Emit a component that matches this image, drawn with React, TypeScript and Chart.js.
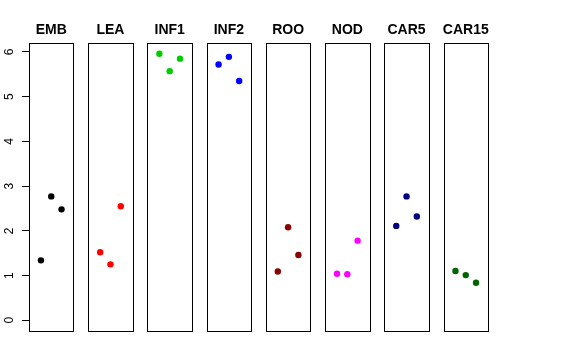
import React, { useEffect, useRef } from "react";
import { Chart, registerables } from "chart.js";

Chart.register(...registerables);

// ---- data ----
const categories = ["EMB", "LEA", "INF1", "INF2", "ROO", "NOD", "CAR5", "CAR15"];
const embValues = [1.34, 2.77, 2.48];
const leaValues = [1.52, 1.25, 2.55];
const inf1Values = [5.96, 5.57, 5.85];
const inf2Values = [5.72, 5.89, 5.35];
const rooValues = [1.09, 2.08, 1.46];
const nodValues = [1.04, 1.03, 1.78];
const car5Values = [2.11, 2.77, 2.32];
const car15Values = [1.1, 1.01, 0.84];
const seriesValues = [embValues, leaValues, inf1Values, inf2Values, rooValues, nodValues, car5Values, car15Values];
const pointColors = ["#000000", "#FF0000", "#00CD00", "#0000FF", "#8B0000", "#FF00FF", "#000080", "#006400"];
const yTicks = [0, 1, 2, 3, 4, 5, 6];
const replicateX = [1, 2, 3];

// panel geometry in x-units
const PANEL_PITCH = 5.75;
const PANEL_MIN = -0.16;
const PANEL_MAX = 4.16;

const panelPlugin = {
  id: "panels",
  beforeDatasetsDraw(chart: any) {
    const { ctx, chartArea } = chart;
    const xs = chart.scales.x;
    ctx.save();
    ctx.strokeStyle = "#000";
    ctx.lineWidth = 1;
    categories.forEach((_, i) => {
      const l = Math.round(xs.getPixelForValue(i * PANEL_PITCH + PANEL_MIN)) + 0.5;
      const r = Math.round(xs.getPixelForValue(i * PANEL_PITCH + PANEL_MAX)) + 0.5;
      const t = Math.round(chartArea.top) + 0.5;
      const b = Math.round(chartArea.bottom) + 0.5;
      ctx.strokeRect(l, t, r - l, b - t);
    });
    ctx.restore();
  },
  afterDraw(chart: any) {
    const { ctx, chartArea } = chart;
    const xs = chart.scales.x;
    const ys = chart.scales.y;
    ctx.save();
    ctx.fillStyle = "#000";
    ctx.font = 'bold 14px "Liberation Sans", Arial, sans-serif';
    ctx.textAlign = "center";
    ctx.textBaseline = "alphabetic";
    categories.forEach((name, i) => {
      const c = xs.getPixelForValue(i * PANEL_PITCH + (PANEL_MIN + PANEL_MAX) / 2);
      ctx.fillText(name, c, chartArea.top - 9);
    });
    ctx.font = '12px "Liberation Sans", Arial, sans-serif';
    yTicks.forEach((v) => {
      const py = ys.getPixelForValue(v);
      ctx.save();
      ctx.translate(12.5, py);
      ctx.rotate(-Math.PI / 2);
      ctx.textAlign = "center";
      ctx.fillText(String(v), 0, 0);
      ctx.restore();
    });
    ctx.restore();
  },
};

export default function App() {
  const ref = useRef<HTMLCanvasElement>(null);
  useEffect(() => {
    if (!ref.current) return;
    const datasets = categories.map((name, i) => ({
      label: name,
      data: seriesValues[i].map((v, j) => ({ x: i * PANEL_PITCH + replicateX[j], y: v })),
      backgroundColor: pointColors[i],
      borderColor: pointColors[i],
      borderWidth: 0,
      pointRadius: 3.2,
      pointHoverRadius: 3.2,
    }));
    const chart = new Chart(ref.current, {
      type: "scatter",
      data: { datasets },
      options: {
        animation: false,
        responsive: false,
        maintainAspectRatio: false,
        layout: { padding: { left: 0, top: 43, right: 88, bottom: 29 } },
        plugins: { legend: { display: false }, tooltip: { enabled: false } },
        scales: {
          x: {
            type: "linear",
            display: false,
            min: PANEL_MIN,
            max: (categories.length - 1) * PANEL_PITCH + PANEL_MAX,
          },
          y: {
            type: "linear",
            min: -0.24,
            max: 6.2,
            afterBuildTicks: (scale: any) => {
              scale.ticks = yTicks.map((v) => ({ value: v }));
            },
            afterFit: (scale: any) => {
              scale.width = 29;
            },
            border: { display: false },
            grid: { drawOnChartArea: false, drawTicks: true, tickLength: 7, color: "#000", lineWidth: 1 },
            ticks: { display: false },
          },
        },
      },
      plugins: [panelPlugin],
    });
    return () => chart.destroy();
  }, []);
  return (
    <div style={{ position: "fixed", left: 0, top: 0, width: 576, height: 360, background: "#fff" }}>
      <canvas ref={ref} width={576} height={360} style={{ width: 576, height: 360 }} />
    </div>
  );
}
